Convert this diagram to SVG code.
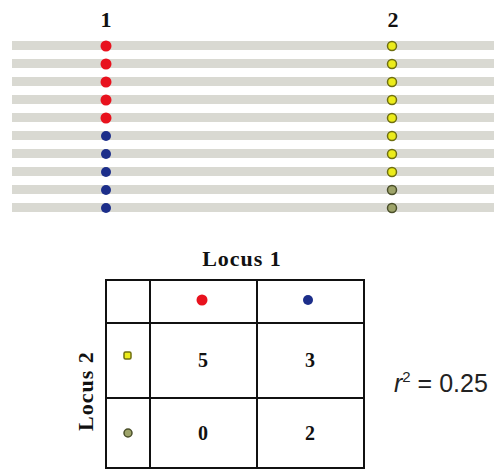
<svg xmlns="http://www.w3.org/2000/svg" width="494" height="470" viewBox="0 0 494 470">
<defs>
<style>
.stripe{fill:#d9d9d2}
.red{fill:#e8121e}
.blue{fill:#1c2e8a}
.yel{fill:#ecec1a;stroke:#6f6f10;stroke-width:1.5}
.grn{fill:#9ea46a;stroke:#4a4f2a;stroke-width:1.5}
.hdr{font-family:"Liberation Serif",serif;font-weight:bold;fill:#111}
.num{font-family:"Liberation Serif",serif;font-weight:bold;font-size:20px;fill:#111;text-anchor:middle}
.grid{stroke:#111;stroke-width:2;fill:none}
</style>
</defs>
<rect width="494" height="470" fill="#fff"/>
<g id="chromosomes">
<rect class="stripe" x="12" y="41" width="482" height="9"/>
<rect class="stripe" x="12" y="59" width="482" height="9"/>
<rect class="stripe" x="12" y="77" width="482" height="9"/>
<rect class="stripe" x="12" y="95" width="482" height="9"/>
<rect class="stripe" x="12" y="113" width="482" height="9"/>
<rect class="stripe" x="12" y="131" width="482" height="9"/>
<rect class="stripe" x="12" y="149" width="482" height="9"/>
<rect class="stripe" x="12" y="167" width="482" height="9"/>
<rect class="stripe" x="12" y="185" width="482" height="9"/>
<rect class="stripe" x="12" y="203" width="482" height="9"/>
</g>
<g id="locus1">
<text class="hdr" x="106" y="27" font-size="22" text-anchor="middle">1</text>
<circle class="red" cx="106" cy="46" r="5.5"/>
<circle class="red" cx="106" cy="64" r="5.5"/>
<circle class="red" cx="106" cy="82" r="5.5"/>
<circle class="red" cx="106" cy="100" r="5.5"/>
<circle class="red" cx="106" cy="118" r="5.5"/>
<circle class="blue" cx="106" cy="136" r="5"/>
<circle class="blue" cx="106" cy="154" r="5"/>
<circle class="blue" cx="106" cy="172" r="5"/>
<circle class="blue" cx="106" cy="190" r="5"/>
<circle class="blue" cx="106" cy="208" r="5"/>
</g>
<g id="locus2">
<text class="hdr" x="393" y="27" font-size="22" text-anchor="middle">2</text>
<circle class="yel" cx="392" cy="46" r="4.5"/>
<circle class="yel" cx="392" cy="64" r="4.5"/>
<circle class="yel" cx="392" cy="82" r="4.5"/>
<circle class="yel" cx="392" cy="100" r="4.5"/>
<circle class="yel" cx="392" cy="118" r="4.5"/>
<circle class="yel" cx="392" cy="136" r="4.5"/>
<circle class="yel" cx="392" cy="154" r="4.5"/>
<circle class="yel" cx="392" cy="172" r="4.5"/>
<circle class="grn" cx="392" cy="190" r="4.5"/>
<circle class="grn" cx="392" cy="208" r="4.5"/>
</g>
<g id="table">
<text class="hdr" x="242" y="266" font-size="22" text-anchor="middle" letter-spacing="1">Locus 1</text>
<text class="hdr" x="0" y="0" font-size="22" text-anchor="middle" letter-spacing="1" transform="translate(93,391) rotate(-90)">Locus 2</text>
<rect class="grid" x="106" y="280" width="258" height="188"/>
<line class="grid" x1="150" y1="280" x2="150" y2="468"/>
<line class="grid" x1="257" y1="280" x2="257" y2="468"/>
<line class="grid" x1="106" y1="323" x2="364" y2="323"/>
<line class="grid" x1="106" y1="398" x2="364" y2="398"/>
<circle class="red" cx="202" cy="300" r="5.5"/>
<circle class="blue" cx="308" cy="300" r="5"/>
<rect class="yel" x="124" y="352" width="7" height="7" rx="1.5"/>
<circle class="grn" cx="128" cy="433" r="4"/>
<text class="num" x="203" y="367">5</text>
<text class="num" x="310" y="367">3</text>
<text class="num" x="203" y="440">0</text>
<text class="num" x="310" y="440">2</text>
</g>
<g id="r2">
<text x="394" y="392" font-family="Liberation Sans,Arial,sans-serif" font-size="25" fill="#222"><tspan font-style="italic">r</tspan><tspan font-size="15" dy="-10">2</tspan><tspan dy="10"> = 0.25</tspan></text>
</g>
</svg>
